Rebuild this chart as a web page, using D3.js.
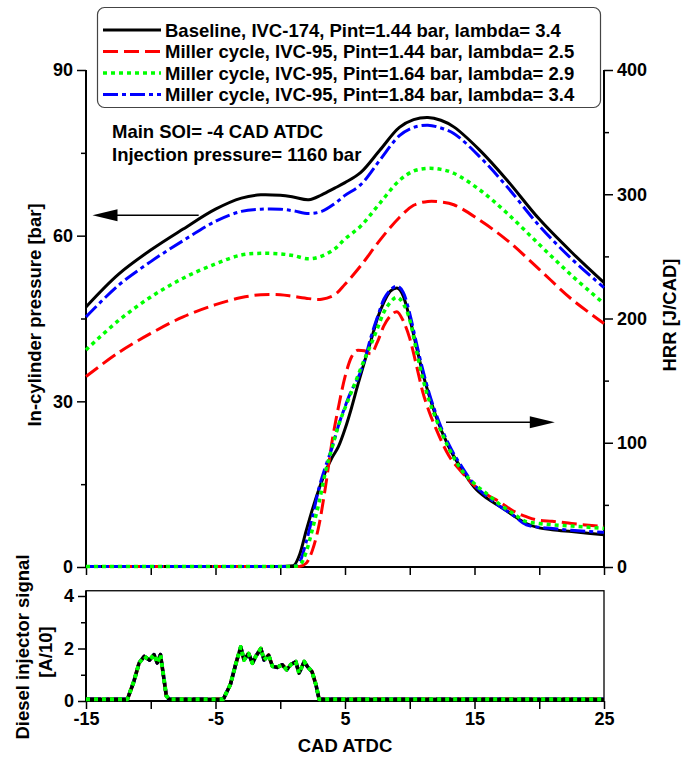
<!DOCTYPE html>
<html>
<head>
<meta charset="utf-8">
<script src="https://cdn.jsdelivr.net/npm/d3@7"></script>
<style>
  body { margin: 0; background: #fff; }
  svg { display: block; font-family: "Liberation Sans", Arial, sans-serif; font-weight: bold; }
</style>
</head>
<body>
<svg id="chart" width="681" height="760"></svg>
<script>
// ---- data ----
const seriesNames = [
    "Baseline, IVC-174, Pint=1.44 bar, lambda= 3.4",
    "Miller cycle, IVC-95, Pint=1.44 bar, lambda= 2.5",
    "Miller cycle, IVC-95, Pint=1.64 bar, lambda= 2.9",
    "Miller cycle, IVC-95, Pint=1.84 bar, lambda= 3.4"
];

// in-cylinder pressure [bar]
const pCad = [-15, -12.5, -10, -7.5, -5, -3, -1.5, 0, 1, 2.2, 3.2, 4.2, 5, 6.2, 7.7, 9.2, 10.3, 11.4, 12.4, 13.4, 15.4, 17.5, 20, 22.5, 25];
const pBaseline = [47.1, 53.0, 57.4, 61.2, 64.8, 66.8, 67.4, 67.3, 67.0, 66.5, 67.4, 68.6, 69.6, 71.4, 75.5, 79.6, 81.0, 81.4, 80.9, 79.7, 75.5, 70.1, 63.0, 57.0, 51.5];
const pMiller144 = [34.5, 38.8, 42.3, 45.3, 47.5, 48.8, 49.3, 49.3, 49.0, 48.6, 48.5, 49.3, 51.2, 54.5, 59.2, 63.3, 65.5, 66.2, 66.1, 65.6, 62.8, 59.2, 53.9, 48.5, 44.1];
const pMiller164 = [39.3, 44.6, 48.9, 52.3, 54.9, 56.5, 56.8, 56.7, 56.4, 55.8, 56.3, 57.6, 59.4, 61.7, 65.9, 70.0, 71.7, 72.2, 72.0, 71.3, 68.3, 64.1, 58.4, 52.8, 47.7];
const pMiller184 = [45.3, 51.0, 55.3, 59.1, 62.6, 64.4, 64.8, 64.8, 64.5, 64.0, 64.4, 65.8, 67.3, 69.2, 73.7, 78.1, 79.6, 80.0, 79.5, 78.5, 74.3, 68.9, 61.8, 55.8, 50.6];

// heat release rate [J/CAD]
const hCad = [-15, -5, 0, 1, 1.5, 2, 2.5, 3, 3.5, 4, 4.5, 5, 5.5, 6, 6.5, 7, 7.5, 8, 8.5, 9, 9.5, 10, 10.5, 11, 11.5, 12, 13, 14, 15, 16, 17, 18, 19, 20, 21, 22.5, 25];
const hBaseline = [0.5, 0.5, 0.5, 1, 10, 29, 47, 63, 77, 88, 97, 111, 128, 147, 165, 182, 200, 213, 222, 224.5, 218, 200, 178, 156, 138, 122, 97, 79, 64, 55, 48.5, 41.5, 35, 31.5, 30, 28.5, 26];
const hMiller144 = [0.5, 0.5, 0.5, 0.5, 0.5, 3, 14, 34, 65, 101, 129, 153, 169, 174.5, 174, 171.5, 181, 194, 202, 205.5, 198, 184, 163, 141, 125, 112, 90, 76.5, 65.5, 58, 52, 45, 40.5, 37.5, 36.8, 35, 32.5];
const hMiller164 = [0.5, 0.5, 0.5, 0.5, 1.5, 12, 31, 52, 77, 96, 114, 128, 141, 154, 167, 179, 192, 205, 213, 217, 212, 199, 175, 152, 134, 120, 96, 78, 67, 58.5, 50, 43, 36.5, 35, 34, 33, 31];
const hMiller184 = [0.5, 0.5, 0.5, 0.5, 4, 20, 41, 64, 81, 96, 114, 129, 142, 152, 166, 185, 201, 215.5, 223, 226, 221, 204, 181, 159, 140, 124, 99, 81, 66, 56.5, 48.5, 41.5, 34, 32, 31, 29.5, 28];

// diesel injector signal [A/10]
const injCad = [-15, -11.8, -11.3, -10.9, -10.5, -10.1, -9.75, -9.5, -9.25, -9.0, -8.8, -8.6, -4.4, -3.85, -3.45, -3.05, -2.8, -2.45, -2.15, -1.9, -1.5, -1.25, -0.9, -0.6, -0.25, 0.15, 0.5, 0.8, 1.2, 1.45, 1.85, 2.1, 2.45, 2.75, 3.0, 25];
const injSignal = [0.07, 0.07, 0.75, 1.45, 1.7, 1.56, 1.77, 1.45, 1.77, 0.9, 0.2, 0.07, 0.07, 0.63, 1.38, 2.06, 1.56, 1.81, 1.44, 1.69, 2.0, 1.56, 1.75, 1.32, 1.28, 1.38, 1.19, 1.38, 1.5, 1.06, 1.5, 1.31, 1.12, 0.63, 0.07, 0.07];

const pTicks = [0, 30, 60, 90];
const pMinor = [15, 45, 75];
const hTicks = [0, 100, 200, 300, 400];
const hMinor = [50, 150, 250, 350];
const xTicks = [-15, -10, -5, 0, 5, 10, 15, 20, 25];
const xTickLabels = [-15, -5, 5, 15, 25];
const injTicks = [0, 2, 4];
const injMinor = [1, 3];

// ---- styles ----
const styles = [
    {color: "#000000", dash: null, width: 3},
    {color: "#ff0000", dash: "15,6", width: 3},
    {color: "#00ff00", dash: "4,4", width: 3.5},
    {color: "#0000ff", dash: "15,4,4,4", width: 3}
];
const drawOrder = [0, 1, 3, 2];
const injOrder = [1, 3, 0, 2];
const fontSize = "18.5px";

const svg = d3.select("#chart");

const x = d3.scaleLinear().domain([-15, 25]).range([86, 604]);
const yP = d3.scaleLinear().domain([0, 90]).range([567, 70]);
const yH = d3.scaleLinear().domain([0, 400]).range([567, 70]);
const yI = d3.scaleLinear().domain([0, 4.2]).range([701, 590.75]);

function styleAxis(g, labels) {
    g.select(".domain").remove();
    g.selectAll(".tick line").attr("stroke", "#000").attr("stroke-width", 1.5);
    g.selectAll(".tick text")
        .attr("fill", "#000")
        .style("font-size", labels ? "18px" : "0px")
        .style("font-family", "'Liberation Sans', Arial, sans-serif")
        .style("font-weight", "bold");
}

function addAxis(axis, transform, labels) {
    svg.append("g")
        .attr("transform", transform)
        .call(axis)
        .call(g => styleAxis(g, labels));
}

// ---- top panel axes ----
addAxis(d3.axisLeft(yP).tickValues(pMinor).tickSize(5).tickFormat(""), "translate(86,0)", false);
addAxis(d3.axisLeft(yP).tickValues(pTicks).tickSize(9).tickPadding(4).tickFormat(d => d), "translate(86,0)", true);
addAxis(d3.axisRight(yH).tickValues(hMinor).tickSize(5).tickFormat(""), "translate(604,0)", false);
addAxis(d3.axisRight(yH).tickValues(hTicks).tickSize(9).tickPadding(4).tickFormat(d => d), "translate(604,0)", true);
addAxis(d3.axisBottom(x).tickValues(xTicks).tickSize(8).tickFormat(""), "translate(0,567)", false);

// frame lines of top panel
svg.append("path")
    .attr("d", `M${x(-15)},${yP(90)}V${yP(0)}H${x(25)}V${yH(400)}`)
    .attr("fill", "none").attr("stroke", "#000").attr("stroke-width", 2);

// ---- bottom panel axes ----
addAxis(d3.axisLeft(yI).tickValues(injMinor).tickSize(5).tickFormat(""), "translate(86,0)", false);
addAxis(d3.axisLeft(yI).tickValues(injTicks).tickSize(8).tickPadding(4).tickFormat(d => d), "translate(86,0)", true);
addAxis(d3.axisBottom(x).tickValues(xTicks).tickSize(8)
    .tickFormat(d => xTickLabels.includes(d) ? d : ""), "translate(0,701)", true);

svg.append("rect")
    .attr("x", x(-15)).attr("y", yI(4.2))
    .attr("width", x(25) - x(-15)).attr("height", yI(0) - yI(4.2))
    .attr("fill", "none").attr("stroke", "#000").attr("stroke-width", 1.3);
svg.append("path")
    .attr("d", `M${x(-15)},${yI(4.2)}V${yI(0)}H${x(25)}`)
    .attr("fill", "none").attr("stroke", "#000").attr("stroke-width", 2);

// ---- curves ----
const pressure = [pBaseline, pMiller144, pMiller164, pMiller184];
const hrr = [hBaseline, hMiller144, hMiller164, hMiller184];

const pLine = d3.line().x((d, i) => x(pCad[i])).y(d => yP(d)).curve(d3.curveCatmullRom.alpha(0.5));
const hLine = d3.line().x((d, i) => x(hCad[i])).y(d => yH(d)).curve(d3.curveMonotoneX);
const iLine = d3.line().x((d, i) => x(injCad[i])).y(d => yI(d));

function drawSeries(gen, values, s, w) {
    svg.append("path")
        .datum(values)
        .attr("d", gen)
        .attr("fill", "none")
        .attr("stroke", s.color)
        .attr("stroke-width", w || s.width)
        .attr("stroke-dasharray", s.dash)
        .attr("stroke-linejoin", "round");
}

drawOrder.forEach(k => drawSeries(pLine, pressure[k], styles[k]));
drawOrder.forEach(k => drawSeries(hLine, hrr[k], styles[k]));
injOrder.forEach(k => drawSeries(iLine, injSignal, styles[k], k === 2 ? 4 : 3.5));

// ---- arrows ----
function arrow(xFrom, xTo, yPix) {
    const dir = xTo > xFrom ? 1 : -1;
    svg.append("line")
        .attr("x1", xFrom).attr("x2", xTo - dir * 20)
        .attr("y1", yPix).attr("y2", yPix)
        .attr("stroke", "#000").attr("stroke-width", 1.3);
    svg.append("path")
        .attr("d", `M${xTo},${yPix}L${xTo - dir * 25},${yPix - 6}L${xTo - dir * 25},${yPix + 6}Z`)
        .attr("fill", "#000");
}
arrow(x(-6.3), x(-14.5), yP(63.7));
arrow(x(12.8), x(21.2), yH(116.5));

// ---- legend ----
const legend = svg.append("g");
legend.append("rect")
    .attr("x", 97.5).attr("y", 7.5).attr("width", 503).attr("height", 100).attr("rx", 7)
    .attr("fill", "#fff").attr("stroke", "#444").attr("stroke-width", 1.2);
const rowY = [30, 51.5, 73, 94.5];
seriesNames.forEach((name, i) => {
    legend.append("line")
        .attr("x1", 103).attr("x2", 161).attr("y1", rowY[i]).attr("y2", rowY[i])
        .attr("stroke", styles[i].color).attr("stroke-width", styles[i].width)
        .attr("stroke-dasharray", styles[i].dash);
    legend.append("text")
        .attr("x", 165).attr("y", rowY[i] + 6.5)
        .style("font-size", fontSize)
        .text(name);
});

// ---- annotations ----
svg.append("text").attr("x", 112).attr("y", 138).style("font-size", fontSize).text("Main SOI= -4 CAD ATDC");
svg.append("text").attr("x", 112).attr("y", 161).style("font-size", fontSize).text("Injection pressure= 1160 bar");

// ---- axis titles ----
svg.append("text")
    .attr("transform", "translate(41,315) rotate(-90)")
    .attr("text-anchor", "middle").style("font-size", fontSize)
    .text("In-cylinder pressure [bar]");
svg.append("text")
    .attr("transform", "translate(676,315) rotate(-90)")
    .attr("text-anchor", "middle").style("font-size", fontSize)
    .text("HRR [J/CAD]");
svg.append("text")
    .attr("transform", "translate(29,647) rotate(-90)")
    .attr("text-anchor", "middle").style("font-size", fontSize)
    .text("Diesel injector signal");
svg.append("text")
    .attr("transform", "translate(52,652) rotate(-90)")
    .attr("text-anchor", "middle").style("font-size", fontSize)
    .text("[A/10]");
svg.append("text")
    .attr("x", x(5)).attr("y", 752)
    .attr("text-anchor", "middle").style("font-size", fontSize)
    .text("CAD ATDC");
</script>
</body>
</html>
